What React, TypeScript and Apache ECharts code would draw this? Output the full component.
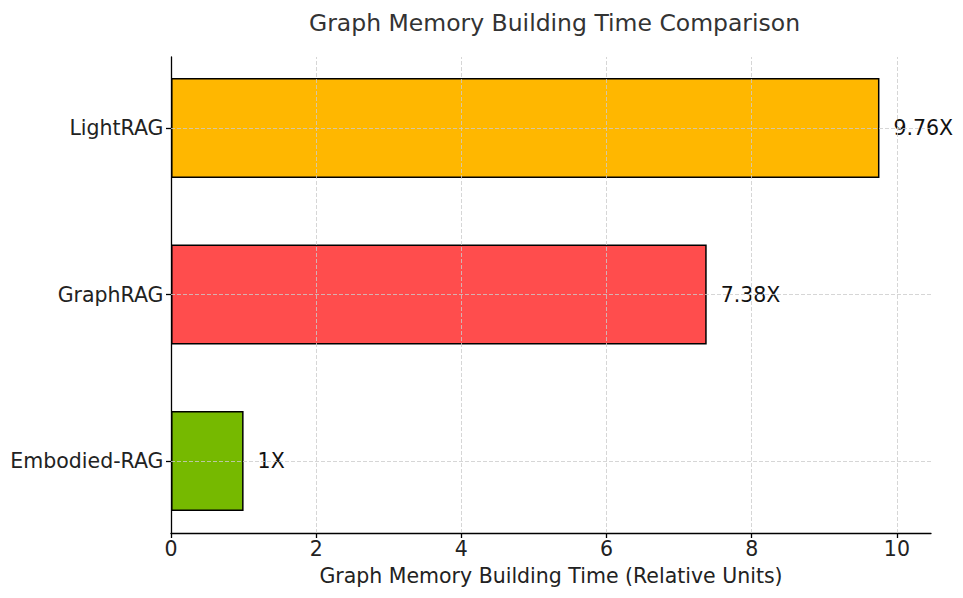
import React, { useEffect, useRef } from "react";
import * as echarts from "echarts";

const categories = ["Embodied-RAG", "GraphRAG", "LightRAG"];
const values = [1, 7.38, 9.76];
const valueLabels = ["1X", "7.38X", "9.76X"];
const barColors = ["#76B900", "#FF4D4D", "#FFB700"];
const xTicks = [0, 2, 4, 6, 8, 10];
const xMax = 10.47;
const chartTitle = "Graph Memory Building Time Comparison";
const xAxisTitle = "Graph Memory Building Time (Relative Units)";

export default function App() {
  const ref = useRef<HTMLDivElement>(null);
  useEffect(() => {
    const chart = echarts.init(ref.current!, null, { renderer: "svg" });
    const font = "DejaVu Sans";
    const gridLine = { color: "#cccccc", type: [4, 2], width: 0.8 };
    const axisStroke = { color: "#000", width: 1.3 };
    chart.setOption({
      animation: false,
      textStyle: { fontFamily: font },
      title: {
        text: chartTitle,
        left: 304,
        top: 6,
        textStyle: { fontSize: 23.5, fontWeight: "normal", color: "#333", fontFamily: font },
      },
      grid: [
        { left: 171, top: 57, width: 760, height: 476 },
        { left: 171, top: 44.75, width: 760, height: 499.5 },
      ],
      xAxis: [
        {
          gridIndex: 0,
          type: "value",
          min: 0,
          max: xMax,
          name: xAxisTitle,
          nameLocation: "middle",
          nameGap: 32,
          nameTextStyle: { fontSize: 20.5, color: "#222", fontFamily: font },
          axisLine: { show: true, lineStyle: axisStroke },
          axisTick: { show: true, length: 5, customValues: xTicks, lineStyle: axisStroke },
          axisLabel: { customValues: xTicks, fontSize: 20.5, color: "#222", margin: 5, fontFamily: font },
          splitLine: { show: false },
          z: 4,
        },
        { gridIndex: 1, type: "value", min: 0, max: xMax, show: false },
      ],
      yAxis: [
        {
          gridIndex: 0,
          type: "value",
          min: 0,
          max: 1,
          axisLine: { show: true, lineStyle: axisStroke },
          axisTick: { show: false },
          axisLabel: { show: false },
          splitLine: { show: false },
          z: 4,
        },
        {
          gridIndex: 1,
          type: "category",
          data: categories,
          axisLine: { show: false },
          axisTick: { show: true, alignWithLabel: true, length: 5, lineStyle: axisStroke },
          axisLabel: { fontSize: 20.5, color: "#222", margin: 7.5, fontFamily: font },
          splitLine: { show: false },
        },
      ],
      series: [
        {
          type: "bar",
          xAxisIndex: 1,
          yAxisIndex: 1,
          barWidth: 100,
          data: values.map((v, i) => ({
            value: v,
            itemStyle: { color: barColors[i], borderColor: "#000", borderWidth: 1.5 },
          })),
          label: {
            show: true,
            position: "right",
            distance: 14,
            fontSize: 20.5,
            color: "#111",
            fontFamily: font,
            formatter: (p: any) => valueLabels[p.dataIndex],
          },
          markLine: {
            silent: true,
            symbol: ["none", "none"],
            label: { show: false },
            lineStyle: gridLine,
            data: categories.map((c) => ({ yAxis: c })),
          },
        },
        {
          type: "line",
          xAxisIndex: 0,
          yAxisIndex: 0,
          data: [],
          z: 5,
          markLine: {
            silent: true,
            symbol: ["none", "none"],
            label: { show: false },
            lineStyle: gridLine,
            data: xTicks.filter((v) => v > 0).map((v) => ({ xAxis: v })),
          },
        },
      ],
    });
    return () => chart.dispose();
  }, []);
  return (
    <div
      ref={ref}
      style={{ position: "fixed", left: 0, top: 0, width: 963, height: 598, background: "#fff" }}
    />
  );
}
